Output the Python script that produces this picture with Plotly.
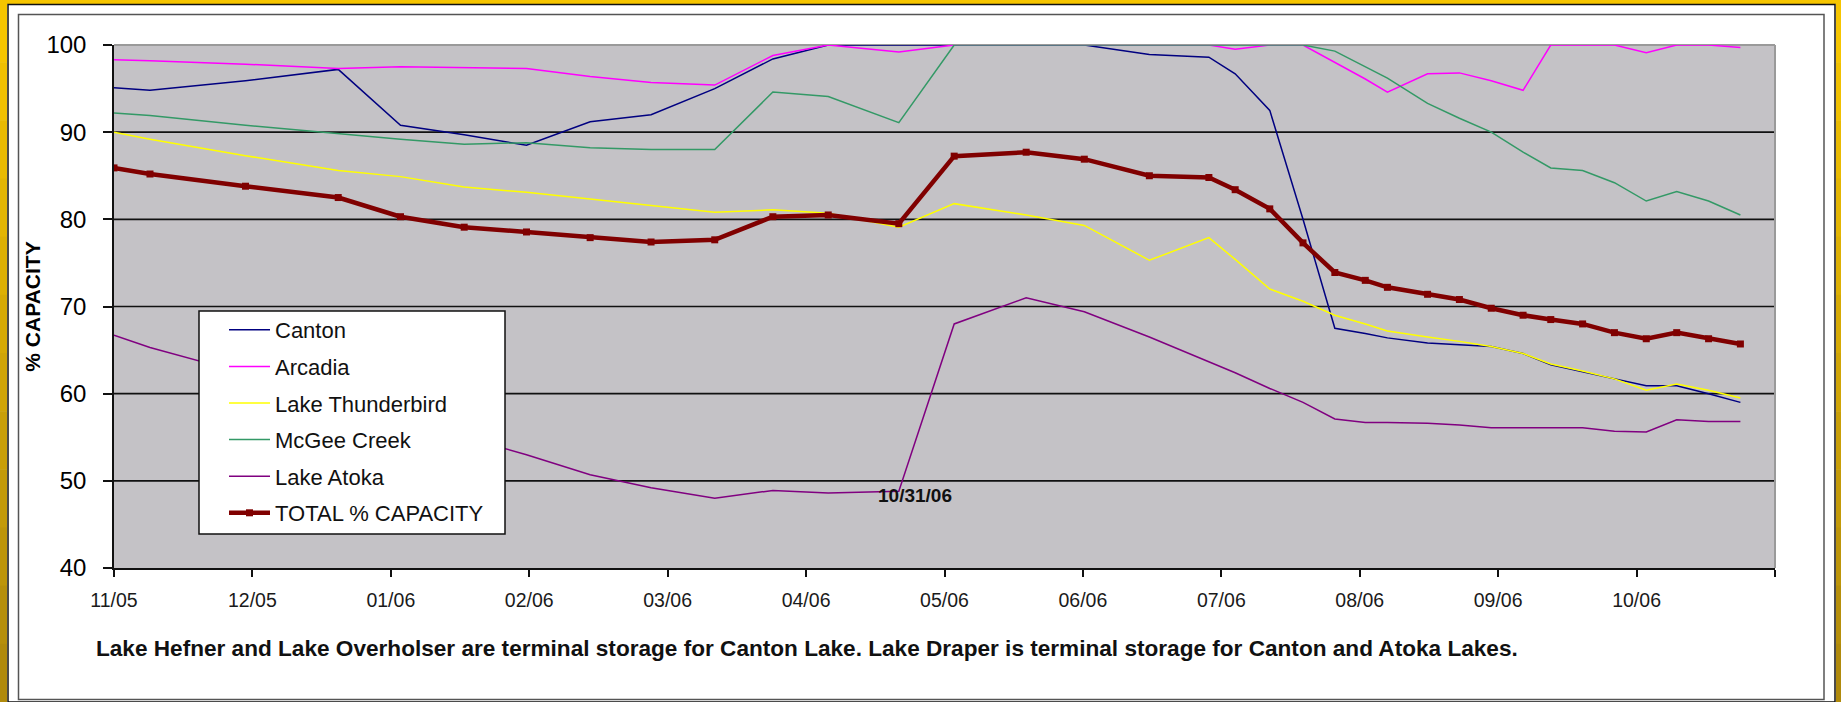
import plotly.graph_objects as go

# ---------------- data ----------------
# x positions: months elapsed since 1 Nov 2005 (axis is evenly spaced by month)
months = [0.00, 0.26, 0.95, 1.62, 2.07, 2.53, 2.98, 3.44, 3.88, 4.34, 4.76, 5.16,
          5.67, 6.07, 6.59, 7.01, 7.48, 7.91, 8.10, 8.35, 8.59, 8.82, 9.04, 9.20,
          9.49, 9.72, 9.95, 10.18, 10.38, 10.61, 10.84, 11.07, 11.29, 11.52, 11.75]

canton = [95.1, 94.8, 95.9, 97.2, 90.8, 89.7, 88.5, 91.2, 92.0, 95.0, 98.4, 100.0,
          100.0, 100.0, 100.0, 100.0, 98.9, 98.6, 96.7, 92.5, 80.0, 67.5, 66.9, 66.4,
          65.8, 65.6, 65.4, 64.6, 63.3, 62.5, 61.7, 60.9, 60.9, 60.0, 59.0]

arcadia = [98.3, 98.2, 97.8, 97.3, 97.5, 97.4, 97.3, 96.4, 95.7, 95.4, 98.8, 100.0,
           99.2, 100.0, 100.0, 100.0, 100.0, 100.0, 99.5, 100.0, 100.0, 98.0, 96.1, 94.6,
           96.7, 96.8, 95.9, 94.8, 100.0, 100.0, 100.0, 99.1, 100.0, 100.0, 99.7]

thunderbird = [90.0, 89.2, 87.3, 85.6, 84.9, 83.7, 83.1, 82.3, 81.6, 80.8, 81.1, 80.7,
               79.1, 81.8, 80.5, 79.3, 75.3, 77.9, 75.4, 72.0, 70.6, 69.0, 68.0, 67.2,
               66.5, 66.0, 65.4, 64.6, 63.4, 62.6, 61.7, 60.4, 61.1, 60.4, 59.5]

mcgee = [92.2, 91.9, 90.8, 89.8, 89.2, 88.6, 88.8, 88.2, 88.0, 88.0, 94.6, 94.1,
         91.1, 100.0, 100.0, 100.0, 100.0, 100.0, 100.0, 100.0, 100.0, 99.3, 97.5, 96.2,
         93.3, 91.6, 90.0, 87.7, 85.9, 85.6, 84.2, 82.1, 83.2, 82.1, 80.5]

atoka = [66.7, 65.3, 62.3, 59.2, 57.2, 55.0, 53.0, 50.7, 49.2, 48.0, 48.9, 48.6,
         48.8, 68.0, 71.0, 69.4, 66.5, 63.7, 62.4, 60.6, 59.0, 57.1, 56.7, 56.7,
         56.6, 56.4, 56.1, 56.1, 56.1, 56.1, 55.7, 55.6, 57.0, 56.8, 56.8]

total = [85.9, 85.2, 83.8, 82.5, 80.3, 79.1, 78.55, 77.9, 77.4, 77.65, 80.3, 80.5,
         79.5, 87.25, 87.7, 86.9, 85.0, 84.8, 83.4, 81.2, 77.3, 73.9, 73.0, 72.2,
         71.4, 70.8, 69.8, 69.0, 68.5, 68.0, 67.0, 66.3, 67.0, 66.3, 65.7]

series_names = ["Canton", "Arcadia", "Lake Thunderbird", "McGee Creek", "Lake Atoka"]
total_name = "TOTAL % CAPACITY"

tick_positions = list(range(13))
tick_labels = ["11/05", "12/05", "01/06", "02/06", "03/06", "04/06", "05/06",
               "06/06", "07/06", "08/06", "09/06", "10/06", ""]
y_ticks = [40, 50, 60, 70, 80, 90, 100]
grid_values = [50, 60, 70, 80, 90]

date_note = "10/31/06"
note_x, note_y = 5.79, 48.3
caption = ("Lake Hefner and Lake Overholser are terminal storage for Canton Lake. "
           "Lake Draper is terminal storage for Canton and Atoka Lakes.")

# ---------------- styling ----------------
FONT = "Liberation Sans, Arial, sans-serif"
W, H = 1841, 702
ML, MR, MT, MB = 114, 66, 45, 134
PW, PH = W - ML - MR, H - MT - MB


def px(x):
    return (x - ML) / PW


def py(y):
    return (H - MB - y) / PH


colors = ["#000080", "#FF00FF", "#FFFF00", "#339966", "#800080"]
values = [canton, arcadia, thunderbird, mcgee, atoka]

fig = go.Figure()
for name, vals, col in zip(series_names, values, colors):
    fig.add_trace(go.Scatter(x=months, y=vals, mode="lines", name=name,
                             legendgroup=name,
                             line=dict(color=col, width=1.5)))
fig.add_trace(go.Scatter(x=months, y=total, mode="lines+markers", name=total_name,
                         legendgroup=total_name,
                         line=dict(color="#800000", width=4.5),
                         marker=dict(symbol="square", size=7, color="#800000")))

shapes = []
# horizontal gridlines (between grid and traces)
for v in grid_values:
    shapes.append(dict(type="line", xref="paper", yref="y", x0=0, x1=1, y0=v, y1=v,
                       line=dict(color="#111111", width=1.6), layer="between"))
# grey top / right border of plot area
shapes.append(dict(type="line", xref="paper", yref="paper", x0=0, x1=1, y0=1, y1=1,
                   line=dict(color="#9a9a9a", width=2), layer="below"))
shapes.append(dict(type="line", xref="paper", yref="paper", x0=1, x1=1, y0=0, y1=1,
                   line=dict(color="#9a9a9a", width=2), layer="below"))

# legend box (the legend itself is drawn transparent inside it)
shapes.append(dict(type="rect", xref="paper", yref="paper", x0=px(199), x1=px(505),
                   y0=py(534), y1=py(311), fillcolor="white",
                   line=dict(color="#111111", width=1.5), layer="above"))


# gold frame strips
def frame_rect(x0, y0, x1, y1, color):
    return dict(type="rect", xref="paper", yref="paper", x0=px(x0), x1=px(x1),
                y0=py(y1), y1=py(y0), fillcolor=color, line=dict(width=0), layer="above")


shapes.append(frame_rect(0, 0, W, 4, "#F6C500"))
nseg = 12
top_c = (246, 197, 0)
bot_c = (176, 138, 12)
for i in range(nseg):
    t = i / (nseg - 1)
    c = tuple(int(round(a + (b - a) * t)) for a, b in zip(top_c, bot_c))
    col = "rgb(%d,%d,%d)" % c
    y0 = 4 + (H - 4) * i / nseg
    y1 = 4 + (H - 4) * (i + 1) / nseg + 0.5
    shapes.append(frame_rect(0, y0, 7, y1, col))
    shapes.append(frame_rect(1836, y0, W, y1, col))
# black outer line and grey inner border
shapes.append(dict(type="rect", xref="paper", yref="paper", x0=px(8), x1=px(1835),
                   y0=py(702), y1=py(4.5), line=dict(color="#111111", width=1.5),
                   layer="above"))
shapes.append(dict(type="rect", xref="paper", yref="paper", x0=px(18.5), x1=px(1824),
                   y0=py(699.5), y1=py(14.5), line=dict(color="#555555", width=1.5),
                   layer="above"))

annotations = [
    dict(x=note_x, y=note_y, xref="x", yref="y", text="<b>%s</b>" % date_note,
         showarrow=False, font=dict(family=FONT, size=19, color="#111111")),
    dict(x=px(94), y=py(648), xref="paper", yref="paper", text="<b>%s</b>" % caption,
         xanchor="left", yanchor="middle", showarrow=False,
         font=dict(family=FONT, size=22.6, color="#111111")),
]

fig.update_layout(
    width=W, height=H,
    margin=dict(l=ML, r=MR, t=MT, b=MB, pad=0),
    paper_bgcolor="white",
    plot_bgcolor="#C4C2C6",
    font=dict(family=FONT, color="#111111"),
    showlegend=True,
    legend=dict(x=px(224), y=py(309), xanchor="left", yanchor="top",
                bgcolor="rgba(0,0,0,0)", borderwidth=0,
                font=dict(family=FONT, size=22, color="#111111"),
                traceorder="grouped", tracegroupgap=5, itemwidth=41),
    shapes=shapes,
    annotations=annotations,
    xaxis=dict(range=[0, 12], tickvals=tick_positions, ticktext=tick_labels,
               ticks="outside", ticklen=7, tickcolor="#111111", tickwidth=1.5,
               showline=True, linecolor="#111111", linewidth=1.5,
               showgrid=False, zeroline=False, ticklabelstandoff=7,
               tickfont=dict(family=FONT, size=19.5, color="#1a1a1a")),
    yaxis=dict(range=[40, 100], tickvals=y_ticks,
               ticks="outside", ticklen=9, tickcolor="#111111", tickwidth=1.5,
               showline=True, linecolor="#111111", linewidth=1.5,
               showgrid=False, zeroline=False, ticklabelstandoff=12,
               tickfont=dict(family=FONT, size=24, color="#000000"),
               title=dict(text="<b>% CAPACITY</b>", standoff=0,
                          font=dict(family=FONT, size=21, color="#000000"))),
)

fig.write_html("out.html", config={"displayModeBar": False},
               post_script="document.body.style.margin='0';")
